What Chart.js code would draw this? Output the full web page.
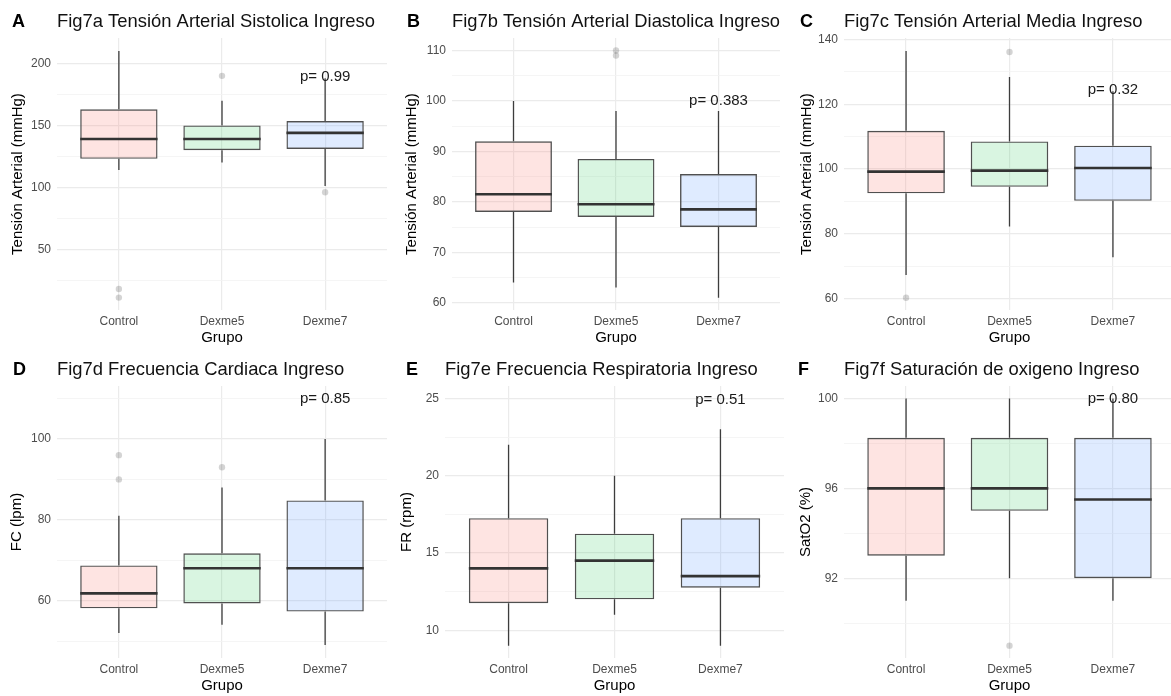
<!DOCTYPE html>
<html lang="es">
<head>
<meta charset="utf-8">
<title>Fig7 Ingreso</title>
<script src="https://cdn.jsdelivr.net/npm/chart.js@4.4.1/dist/chart.umd.min.js"></script>
<style>
  html, body { margin: 0; padding: 0; background: #fff; overflow: hidden; }
  body { position: relative; width: 1171px; height: 696px; }
  canvas { position: absolute; }
</style>
</head>
<body>
<script>
const grupos = ["Control", "Dexme5", "Dexme7"];

// FIG 7A - SISTOLICA
const sistMin = [114, 120, 101];
const sistQ1 = [123, 130, 131];
const sistMed = [139, 139, 144];
const sistQ3 = [163, 150, 153.5];
const sistMax = [210, 170, 188];
const sistOut = [["Control", 11], ["Control", 18], ["Dexme5", 190], ["Dexme7", 96]];
const sistTicks = [50, 100, 150, 200];
const sistMinor = [25, 75, 125, 175];
const sistLim = [1, 220.5];
const sistP = ["p= 0.99", 189];

// FIG 7B - DIASTOLICA
const diasMin = [64, 63, 61];
const diasQ1 = [78, 77, 75];
const diasMed = [81.5, 79.5, 78.5];
const diasQ3 = [92, 88.5, 85.5];
const diasMax = [100, 98, 98];
const diasOut = [["Dexme5", 109], ["Dexme5", 110]];
const diasTicks = [60, 70, 80, 90, 100, 110];
const diasMinor = [65, 75, 85, 95, 105];
const diasLim = [58.55, 112.45];
const diasP = ["p= 0.383", 100];

// FIG 7C - MEDIA
const mediaMin = [67.3, 82.3, 72.8];
const mediaQ1 = [92.5, 94.5, 90.2];
const mediaMed = [99.2, 99.5, 100.3];
const mediaQ3 = [111.8, 108.5, 107.2];
const mediaMax = [136.4, 128.4, 124];
const mediaOut = [["Control", 60.3], ["Dexme5", 136.1]];
const mediaTicks = [60, 80, 100, 120, 140];
const mediaMinor = [70, 90, 110, 130];
const mediaLim = [56.5, 140.4];
const mediaP = ["p= 0.32", 124.5];

// FIG 7D - FRECUENCIA CARDIACA
const fcMin = [52, 54, 49];
const fcQ1 = [58.1, 59.3, 57.3];
const fcMed = [61.8, 68, 68];
const fcQ3 = [68.7, 71.7, 84.8];
const fcMax = [81, 88, 100];
const fcOut = [["Control", 90], ["Control", 96], ["Dexme5", 93]];
const fcTicks = [60, 80, 100];
const fcMinor = [50, 70, 90, 110];
const fcLim = [45.8, 113.1];
const fcP = ["p= 0.85", 110];

// FIG 7E - FRECUENCIA RESPIRATORIA
const frMin = [9, 11, 9];
const frQ1 = [11.75, 12, 12.75];
const frMed = [14, 14.5, 13.5];
const frQ3 = [17.25, 16.25, 17.25];
const frMax = [22, 20, 23];
const frOut = [];
const frTicks = [10, 15, 20, 25];
const frMinor = [12.5, 17.5, 22.5];
const frLim = [8.2, 25.8];
const frP = ["p= 0.51", 24.9];

// FIG 7F - SATURACION
const satMin = [91, 92, 91];
const satQ1 = [93, 95, 92];
const satMed = [96, 96, 95.5];
const satQ3 = [98.25, 98.25, 98.25];
const satMax = [100, 100, 100];
const satOut = [["Dexme5", 89]];
const satTicks = [92, 96, 100];
const satMinor = [90, 94, 98];
const satLim = [88.45, 100.55];
const satP = ["p= 0.80", 100];

const FONT = "'Liberation Sans', Arial, Helvetica, sans-serif";
const fills = ["rgba(248,118,109,0.2)", "rgba(0,186,56,0.15)", "rgba(97,156,255,0.2)"];

const panels = [
  { tag: "A", title: "Fig7a Tensión Arterial Sistolica Ingreso", yTitle: "Tensión Arterial (mmHg)",
    min: sistMin, q1: sistQ1, med: sistMed, q3: sistQ3, max: sistMax, out: sistOut,
    ticks: sistTicks, minor: sistMinor, lim: sistLim, p: sistP,
    left: 0, top: 0, width: 391, plotLeft: 57, yPad: 9, tagX: 12 },
  { tag: "B", title: "Fig7b Tensión Arterial Diastolica Ingreso", yTitle: "Tensión Arterial (mmHg)",
    min: diasMin, q1: diasQ1, med: diasMed, q3: diasQ3, max: diasMax, out: diasOut,
    ticks: diasTicks, minor: diasMinor, lim: diasLim, p: diasP,
    left: 390, top: 0, width: 394, plotLeft: 62, yPad: 13, tagX: 17 },
  { tag: "C", title: "Fig7c Tensión Arterial Media Ingreso", yTitle: "Tensión Arterial (mmHg)",
    min: mediaMin, q1: mediaQ1, med: mediaMed, q3: mediaQ3, max: mediaMax, out: mediaOut,
    ticks: mediaTicks, minor: mediaMinor, lim: mediaLim, p: mediaP,
    left: 780, top: 0, width: 399, plotLeft: 64, yPad: 18, tagX: 20 },
  { tag: "D", title: "Fig7d Frecuencia Cardiaca Ingreso", yTitle: "FC (lpm)",
    min: fcMin, q1: fcQ1, med: fcMed, q3: fcQ3, max: fcMax, out: fcOut,
    ticks: fcTicks, minor: fcMinor, lim: fcLim, p: fcP,
    left: 0, top: 348, width: 391, plotLeft: 57, yPad: 8, tagX: 13 },
  { tag: "E", title: "Fig7e Frecuencia Respiratoria Ingreso", yTitle: "FR (rpm)",
    min: frMin, q1: frQ1, med: frMed, q3: frQ3, max: frMax, out: frOut,
    ticks: frTicks, minor: frMinor, lim: frLim, p: frP,
    left: 390, top: 348, width: 394, plotLeft: 55, yPad: 8, tagX: 16 },
  { tag: "F", title: "Fig7f Saturación de oxigeno Ingreso", yTitle: "SatO2 (%)",
    min: satMin, q1: satQ1, med: satMed, q3: satQ3, max: satMax, out: satOut,
    ticks: satTicks, minor: satMinor, lim: satLim, p: satP,
    left: 780, top: 348, width: 399, plotLeft: 64, yPad: 17, tagX: 18 }
];

// WHISKERS, MEDIANS, P VALUE AND PANEL TAG
function boxExtras(p) {
  return {
    id: "boxExtras",
    beforeDatasetsDraw(chart) {
      const { ctx, scales: { x, y } } = chart;
      ctx.save();
      ctx.strokeStyle = "#3d3d3d";
      ctx.lineWidth = 1.3;
      grupos.forEach((g, i) => {
        const px = x.getPixelForValue(i + 1);
        ctx.beginPath();
        ctx.moveTo(px, y.getPixelForValue(p.min[i]));
        ctx.lineTo(px, y.getPixelForValue(p.q1[i]));
        ctx.moveTo(px, y.getPixelForValue(p.q3[i]));
        ctx.lineTo(px, y.getPixelForValue(p.max[i]));
        ctx.stroke();
      });
      ctx.restore();
    },
    afterDatasetsDraw(chart) {
      const { ctx, scales: { x, y } } = chart;
      const bars = chart.getDatasetMeta(0).data;
      ctx.save();
      ctx.strokeStyle = "#333";
      ctx.lineWidth = 2.6;
      bars.forEach((bar, i) => {
        const py = y.getPixelForValue(p.med[i]);
        ctx.beginPath();
        ctx.moveTo(bar.x - bar.width / 2, py);
        ctx.lineTo(bar.x + bar.width / 2, py);
        ctx.stroke();
      });

      ctx.fillStyle = "#1a1a1a";
      ctx.font = "15px " + FONT;
      ctx.textAlign = "center";
      ctx.textBaseline = "middle";
      ctx.fillText(p.p[0], x.getPixelForValue(3), y.getPixelForValue(p.p[1]));

      ctx.fillStyle = "#000";
      ctx.font = "bold 18px " + FONT;
      ctx.textAlign = "left";
      ctx.fillText(p.tag, p.tagX, 22);
      ctx.restore();
    }
  };
}

function makeChart(p) {
  const canvas = document.createElement("canvas");
  canvas.width = p.width;
  canvas.height = 348;
  canvas.style.left = p.left + "px";
  canvas.style.top = p.top + "px";
  document.body.appendChild(canvas);

  const allTicks = p.ticks.concat(p.minor).sort((a, b) => a - b);
  const isMajor = v => p.ticks.includes(v);

  new Chart(canvas.getContext("2d"), {
    type: "bar",
    data: {
      datasets: [{
        label: "caja",
        data: grupos.map((g, i) => ({ x: i + 1, y: [p.q1[i], p.q3[i]] })),
        backgroundColor: fills,
        borderColor: "#505050",
        borderWidth: 1.4,
        borderSkipped: false,
        categoryPercentage: 1,
        barPercentage: 0.75
      }, {
        type: "scatter",
        label: "atipicos",
        data: p.out.map(o => ({ x: grupos.indexOf(o[0]) + 1, y: o[1] })),
        pointRadius: 3.2,
        pointBackgroundColor: "rgba(0,0,0,0.17)",
        pointBorderWidth: 0
      }]
    },
    options: {
      responsive: false,
      devicePixelRatio: 1,
      animation: false,
      events: [],
      layout: { padding: 0 },
      plugins: {
        legend: { display: false },
        tooltip: { enabled: false },
        title: {
          display: true,
          text: p.title,
          align: "start",
          fullSize: false,
          color: "#111",
          font: { family: FONT, size: 18.4, weight: "normal" },
          padding: { top: 11, bottom: 5 }
        }
      },
      scales: {
        x: {
          type: "linear",
          min: 0.4,
          max: 3.6,
          offset: false,
          afterBuildTicks: s => { s.ticks = grupos.map((g, i) => ({ value: i + 1 })); },
          afterFit: s => { s.height = 38; },
          ticks: {
            callback: v => grupos[v - 1],
            color: "#4d4d4d",
            font: { family: FONT, size: 12 },
            padding: 4,
            maxRotation: 0,
            autoSkip: false
          },
          grid: { color: "#ebebeb", lineWidth: 1.2, drawTicks: false, offset: false },
          border: { display: false },
          title: {
            display: true,
            text: "Grupo",
            color: "#000",
            font: { family: FONT, size: 15 },
            padding: { top: 0, bottom: 1 }
          }
        },
        y: {
          min: p.lim[0],
          max: p.lim[1],
          afterBuildTicks: s => { s.ticks = allTicks.map(v => ({ value: v })); },
          afterFit: s => { s.width = p.plotLeft; },
          ticks: {
            callback: v => isMajor(v) ? v : "",
            color: "#4d4d4d",
            font: { family: FONT, size: 12 },
            padding: 6,
            autoSkip: false
          },
          grid: {
            color: c => (c.tick && isMajor(c.tick.value)) ? "#ebebeb" : "#f3f3f3",
            lineWidth: c => (c.tick && isMajor(c.tick.value)) ? 1.2 : 0.8,
            drawTicks: false
          },
          border: { display: false },
          title: {
            display: true,
            text: p.yTitle,
            color: "#000",
            font: { family: FONT, size: 15 },
            padding: { top: p.yPad, bottom: 0 }
          }
        }
      }
    },
    plugins: [boxExtras(p)]
  });
}

// BUILD ALL PANELS
panels.forEach(makeChart);
</script>
</body>
</html>
